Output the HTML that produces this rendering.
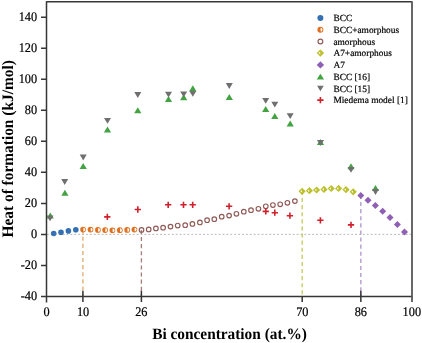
<!DOCTYPE html>
<html><head><meta charset="utf-8"><style>
html,body{margin:0;padding:0;background:#fff;}
body{width:422px;height:343px;overflow:hidden;}
svg{display:block;will-change:transform;}
text{font-family:"Liberation Serif",serif;fill:#000;text-rendering:geometricPrecision;stroke:#000;stroke-width:0.2px;stroke-linejoin:round;}
.tl text{font-size:12.3px;}
.lg text{font-size:9.4px;}
.ti{font-size:15.35px;font-weight:bold;stroke-width:0;}
</style></head><body>
<svg width="422" height="343" viewBox="0 0 422 343">
<path d="M47 234.4H412" stroke="#b0b0b0" stroke-width="0.9" stroke-dasharray="1.9 2"/><path d="M82.9 229.6V296" stroke="#d9954a" stroke-opacity="0.8" stroke-width="1.3" stroke-dasharray="4.1 3"/><path d="M141.4 229.9V296" stroke="#8c5a55" stroke-opacity="0.8" stroke-width="1.3" stroke-dasharray="4.1 3"/><path d="M302.2 190.9V296" stroke="#b9c23a" stroke-opacity="0.85" stroke-width="1.3" stroke-dasharray="4.1 3"/><path d="M360.85 194.9V296" stroke="#9a78bf" stroke-opacity="0.8" stroke-width="1.3" stroke-dasharray="4.1 3"/><circle cx="53.7" cy="233.5" r="2.8" fill="#3570b3"/><circle cx="61" cy="232.3" r="2.8" fill="#3570b3"/><circle cx="68.4" cy="230.9" r="2.8" fill="#3570b3"/><circle cx="75.8" cy="229.7" r="2.8" fill="#3570b3"/><circle cx="83.1" cy="229.6" r="2.85" fill="#e0701e"/><path d="M83.35 227.75A1.85 1.85 0 0 1 83.35 231.45Z" fill="#fff"/><circle cx="90.5" cy="229.6" r="2.85" fill="#e0701e"/><path d="M90.75 227.75A1.85 1.85 0 0 1 90.75 231.45Z" fill="#fff"/><circle cx="97.9" cy="229.9" r="2.85" fill="#e0701e"/><path d="M98.15 228.05A1.85 1.85 0 0 1 98.15 231.75Z" fill="#fff"/><circle cx="105.1" cy="230.1" r="2.85" fill="#e0701e"/><path d="M105.35 228.25A1.85 1.85 0 0 1 105.35 231.95Z" fill="#fff"/><circle cx="112.4" cy="230.3" r="2.85" fill="#e0701e"/><path d="M112.65 228.45A1.85 1.85 0 0 1 112.65 232.15Z" fill="#fff"/><circle cx="119.8" cy="230.2" r="2.85" fill="#e0701e"/><path d="M120.05 228.35A1.85 1.85 0 0 1 120.05 232.05Z" fill="#fff"/><circle cx="127.2" cy="229.9" r="2.85" fill="#e0701e"/><path d="M127.45 228.05A1.85 1.85 0 0 1 127.45 231.75Z" fill="#fff"/><circle cx="134.4" cy="229.6" r="2.85" fill="#e0701e"/><path d="M134.65 227.75A1.85 1.85 0 0 1 134.65 231.45Z" fill="#fff"/><circle cx="141.5" cy="229.9" r="2.3" fill="none" stroke="#8f5b56" stroke-width="1.15"/><circle cx="148.7" cy="229.4" r="2.3" fill="none" stroke="#8f5b56" stroke-width="1.15"/><circle cx="155.9" cy="228.4" r="2.3" fill="none" stroke="#8f5b56" stroke-width="1.15"/><circle cx="163.1" cy="227.7" r="2.3" fill="none" stroke="#8f5b56" stroke-width="1.15"/><circle cx="170.5" cy="226.6" r="2.3" fill="none" stroke="#8f5b56" stroke-width="1.15"/><circle cx="177.7" cy="225.5" r="2.3" fill="none" stroke="#8f5b56" stroke-width="1.15"/><circle cx="185.2" cy="225.2" r="2.3" fill="none" stroke="#8f5b56" stroke-width="1.15"/><circle cx="192.4" cy="223.9" r="2.3" fill="none" stroke="#8f5b56" stroke-width="1.15"/><circle cx="199.9" cy="222.4" r="2.3" fill="none" stroke="#8f5b56" stroke-width="1.15"/><circle cx="207.1" cy="220.2" r="2.3" fill="none" stroke="#8f5b56" stroke-width="1.15"/><circle cx="214.3" cy="219.2" r="2.3" fill="none" stroke="#8f5b56" stroke-width="1.15"/><circle cx="221.7" cy="216.7" r="2.3" fill="none" stroke="#8f5b56" stroke-width="1.15"/><circle cx="229.1" cy="215.6" r="2.3" fill="none" stroke="#8f5b56" stroke-width="1.15"/><circle cx="236.4" cy="213.8" r="2.3" fill="none" stroke="#8f5b56" stroke-width="1.15"/><circle cx="243.8" cy="211.7" r="2.3" fill="none" stroke="#8f5b56" stroke-width="1.15"/><circle cx="251" cy="210.2" r="2.3" fill="none" stroke="#8f5b56" stroke-width="1.15"/><circle cx="258.4" cy="208.8" r="2.3" fill="none" stroke="#8f5b56" stroke-width="1.15"/><circle cx="265.8" cy="206.3" r="2.3" fill="none" stroke="#8f5b56" stroke-width="1.15"/><circle cx="272.9" cy="205" r="2.3" fill="none" stroke="#8f5b56" stroke-width="1.15"/><circle cx="280.2" cy="204.3" r="2.3" fill="none" stroke="#8f5b56" stroke-width="1.15"/><circle cx="287.4" cy="202.8" r="2.3" fill="none" stroke="#8f5b56" stroke-width="1.15"/><circle cx="294.9" cy="201.1" r="2.3" fill="none" stroke="#8f5b56" stroke-width="1.15"/><path d="M302.1 187.7L305.7 191.3L302.1 194.9L298.5 191.3Z" fill="#bcc02c"/><path d="M300.3 191.3L301.9 190L301.9 192.6Z" fill="#fff"/><path d="M309.4 187.1L313 190.7L309.4 194.3L305.8 190.7Z" fill="#bcc02c"/><path d="M307.6 190.7L309.2 189.4L309.2 192Z" fill="#fff"/><path d="M316.6 186.4L320.2 190L316.6 193.6L313 190Z" fill="#bcc02c"/><path d="M314.8 190L316.4 188.7L316.4 191.3Z" fill="#fff"/><path d="M324 185.8L327.6 189.4L324 193L320.4 189.4Z" fill="#bcc02c"/><path d="M322.2 189.4L323.8 188.1L323.8 190.7Z" fill="#fff"/><path d="M331.2 184.9L334.8 188.5L331.2 192.1L327.6 188.5Z" fill="#bcc02c"/><path d="M329.4 188.5L331 187.2L331 189.8Z" fill="#fff"/><path d="M338.6 184.8L342.2 188.4L338.6 192L335 188.4Z" fill="#bcc02c"/><path d="M336.8 188.4L338.4 187.1L338.4 189.7Z" fill="#fff"/><path d="M346 186.1L349.6 189.7L346 193.3L342.4 189.7Z" fill="#bcc02c"/><path d="M344.2 189.7L345.8 188.4L345.8 191Z" fill="#fff"/><path d="M353.2 188.2L356.8 191.8L353.2 195.4L349.6 191.8Z" fill="#bcc02c"/><path d="M351.4 191.8L353 190.5L353 193.1Z" fill="#fff"/><path d="M360.8 192L364.3 195.5L360.8 199L357.3 195.5Z" fill="#8f5fb6"/><path d="M368 196.8L371.5 200.3L368 203.8L364.5 200.3Z" fill="#8f5fb6"/><path d="M375.4 201.9L378.9 205.4L375.4 208.9L371.9 205.4Z" fill="#8f5fb6"/><path d="M382.7 207.7L386.2 211.2L382.7 214.7L379.2 211.2Z" fill="#8f5fb6"/><path d="M390 213.9L393.5 217.4L390 220.9L386.5 217.4Z" fill="#8f5fb6"/><path d="M397.4 221L400.9 224.5L397.4 228L393.9 224.5Z" fill="#8f5fb6"/><path d="M404.5 228.6L408 232.1L404.5 235.6L401 232.1Z" fill="#8f5fb6"/><path d="M50.3 212.5L53.9 218.5L46.7 218.5Z" fill="#43a343"/><path d="M46.5 215.5L53.5 215.5L50 221.3Z" fill="#6f6f6f"/><path d="M64.9 189.8L68.5 195.8L61.3 195.8Z" fill="#43a343"/><path d="M61.2 179.1L68.2 179.1L64.7 184.9Z" fill="#6f6f6f"/><path d="M83.2 162.9L86.8 168.9L79.6 168.9Z" fill="#43a343"/><path d="M79.7 154.6L86.7 154.6L83.2 160.4Z" fill="#6f6f6f"/><path d="M107.5 126.4L111.1 132.4L103.9 132.4Z" fill="#43a343"/><path d="M104 117.9L111 117.9L107.5 123.7Z" fill="#6f6f6f"/><path d="M137.8 107.3L141.4 113.3L134.2 113.3Z" fill="#43a343"/><path d="M134.3 92.1L141.3 92.1L137.8 97.9Z" fill="#6f6f6f"/><path d="M168.5 96L172.1 102L164.9 102Z" fill="#43a343"/><path d="M165 91.8L172 91.8L168.5 97.6Z" fill="#6f6f6f"/><path d="M183.7 94.3L187.3 100.3L180.1 100.3Z" fill="#43a343"/><path d="M180.2 91.4L187.2 91.4L183.7 97.2Z" fill="#6f6f6f"/><path d="M192.8 85.3L196.4 91.3L189.2 91.3Z" fill="#43a343"/><path d="M189.3 90.9L196.3 90.9L192.8 96.7Z" fill="#6f6f6f"/><path d="M229.3 94L232.9 100L225.7 100Z" fill="#43a343"/><path d="M225.8 83.1L232.8 83.1L229.3 88.9Z" fill="#6f6f6f"/><path d="M265.7 106L269.3 112L262.1 112Z" fill="#43a343"/><path d="M262.2 97.9L269.2 97.9L265.7 103.7Z" fill="#6f6f6f"/><path d="M274.8 113L278.4 119L271.2 119Z" fill="#43a343"/><path d="M271.3 101.8L278.3 101.8L274.8 107.6Z" fill="#6f6f6f"/><path d="M290.2 120.5L293.8 126.5L286.6 126.5Z" fill="#43a343"/><path d="M286.7 113.3L293.7 113.3L290.2 119.1Z" fill="#6f6f6f"/><path d="M320.5 138.9L324.1 144.9L316.9 144.9Z" fill="#43a343"/><path d="M317 140.1L324 140.1L320.5 145.9Z" fill="#6f6f6f"/><path d="M351 163.3L354.6 169.3L347.4 169.3Z" fill="#43a343"/><path d="M347.5 166.9L354.5 166.9L351 172.7Z" fill="#6f6f6f"/><path d="M375.5 185L379.1 191L371.9 191Z" fill="#43a343"/><path d="M372 189.1L379 189.1L375.5 194.9Z" fill="#6f6f6f"/><path d="M104.15 216.9H110.45M107.3 213.75V220.05" stroke="#d0202c" stroke-width="1.6" fill="none"/><path d="M134.65 209.5H140.95M137.8 206.35V212.65" stroke="#d0202c" stroke-width="1.6" fill="none"/><path d="M165.05 204.8H171.35M168.2 201.65V207.95" stroke="#d0202c" stroke-width="1.6" fill="none"/><path d="M180.35 204.8H186.65M183.5 201.65V207.95" stroke="#d0202c" stroke-width="1.6" fill="none"/><path d="M189.55 204.8H195.85M192.7 201.65V207.95" stroke="#d0202c" stroke-width="1.6" fill="none"/><path d="M225.95 206.3H232.25M229.1 203.15V209.45" stroke="#d0202c" stroke-width="1.6" fill="none"/><path d="M262.65 211.4H268.95M265.8 208.25V214.55" stroke="#d0202c" stroke-width="1.6" fill="none"/><path d="M271.65 212.7H277.95M274.8 209.55V215.85" stroke="#d0202c" stroke-width="1.6" fill="none"/><path d="M286.75 215.7H293.05M289.9 212.55V218.85" stroke="#d0202c" stroke-width="1.6" fill="none"/><path d="M317.25 220.3H323.55M320.4 217.15V223.45" stroke="#d0202c" stroke-width="1.6" fill="none"/><path d="M347.85 224.9H354.15M351 221.75V228.05" stroke="#d0202c" stroke-width="1.6" fill="none"/><circle cx="320.4" cy="18" r="3.0" fill="#3570b3"/><circle cx="320.4" cy="29.7" r="3.0" fill="#e0701e"/><path d="M320.65 27.85A1.85 1.85 0 0 1 320.65 31.55Z" fill="#fff"/><circle cx="320.4" cy="41.5" r="2.4" fill="none" stroke="#8f5b56" stroke-width="1.15"/><path d="M320.4 49.4L324.1 53.1L320.4 56.8L316.7 53.1Z" fill="#bcc02c"/><path d="M318.6 53.1L320.2 51.8L320.2 54.4Z" fill="#fff"/><path d="M320.4 61.2L324.1 64.9L320.4 68.6L316.7 64.9Z" fill="#8f5fb6"/><path d="M320.4 73.65L324.1 79.55L316.7 79.55Z" fill="#43a343"/><path d="M317.1 85.7L323.7 85.7L320.4 91.3Z" fill="#6f6f6f"/><path d="M317.25 100.1H323.55M320.4 96.95V103.25" stroke="#d0202c" stroke-width="1.6" fill="none"/>
<path d="M46.5 1.85H412M46.5 1.2V302.5M41 296.5H412.5" stroke="#363636" stroke-width="1.5" fill="none"/><path d="M412 1.2V302" stroke="#575757" stroke-width="1.8" fill="none"/><path d="M41 17.2H46.5M41 48.23H46.5M41 79.26H46.5M41 110.29H46.5M41 141.32H46.5M41 172.35H46.5M41 203.38H46.5M41 234.41H46.5M41 265.44H46.5" stroke="#363636" stroke-width="1.5"/><path d="M82.9 296.5V302M141.4 296.5V302M302.2 296.5V302M360.85 296.5V302M82.9 290.8V296.5M141.4 290.8V296.5M360.85 290.8V296.5" stroke="#363636" stroke-width="1.5"/>
<g class="tl"><text transform="translate(37.1 20.8) scale(1 1.07)" text-anchor="end">140</text><text transform="translate(37.1 51.83) scale(1 1.07)" text-anchor="end">120</text><text transform="translate(37.1 82.86) scale(1 1.07)" text-anchor="end">100</text><text transform="translate(37.1 113.89) scale(1 1.07)" text-anchor="end">80</text><text transform="translate(37.1 144.92) scale(1 1.07)" text-anchor="end">60</text><text transform="translate(37.1 175.95) scale(1 1.07)" text-anchor="end">40</text><text transform="translate(37.1 206.98) scale(1 1.07)" text-anchor="end">20</text><text transform="translate(37.1 238.01) scale(1 1.07)" text-anchor="end">0</text><text transform="translate(37.1 269.04) scale(1 1.07)" text-anchor="end">-20</text><text transform="translate(37.1 300.07) scale(1 1.07)" text-anchor="end">-40</text><text transform="translate(46.5 315.8) scale(1 1.07)" text-anchor="middle">0</text><text transform="translate(83.1 315.8) scale(1 1.07)" text-anchor="middle">10</text><text transform="translate(141.3 315.8) scale(1 1.07)" text-anchor="middle">26</text><text transform="translate(302.3 315.8) scale(1 1.07)" text-anchor="middle">70</text><text transform="translate(360.8 315.8) scale(1 1.07)" text-anchor="middle">86</text><text transform="translate(411.8 315.8) scale(1 1.07)" text-anchor="middle">100</text></g>
<g class="lg"><text x="333.4" y="21.05">BCC</text><text x="333.4" y="32.75">BCC+amorphous</text><text x="333.4" y="44.55">amorphous</text><text x="333.4" y="56.15">A7+amorphous</text><text x="333.4" y="67.95">A7</text><text x="333.4" y="79.65">BCC [16]</text><text x="333.4" y="91.55">BCC [15]</text><text x="333.4" y="103.15">Miedema model [1]</text></g>
<text class="ti" transform="translate(229.5 338.6) scale(1 1.03)" text-anchor="middle">Bi concentration (at.%)</text>
<text class="ti" transform="translate(12.5 148.85) rotate(-90) scale(1.003 1.04)" text-anchor="middle">Heat of formation (kJ/mol)</text>
</svg>
</body></html>
